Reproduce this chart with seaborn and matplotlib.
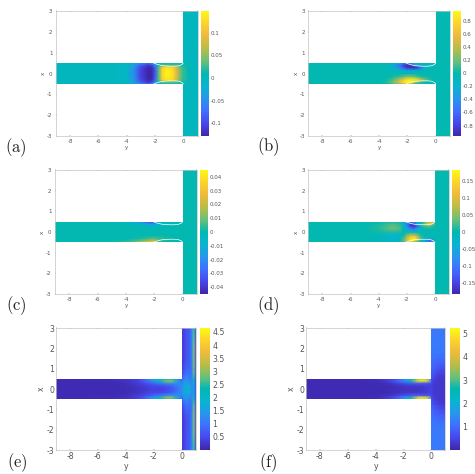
import numpy as np
import matplotlib
matplotlib.use("Agg")
import matplotlib.pyplot as plt
from matplotlib.colors import LinearSegmentedColormap
from matplotlib.patches import Rectangle
from matplotlib.transforms import Affine2D
import seaborn as sns

# Sampling stations of the horizontal channel
channel_y = [-9, -5, -4, -3.5, -3, -2.5, -2.25, -2, -1.75, -1.5, -1.25, -1, -.75, -.5, -.25, 0]
channel_x_upper = [0, .15, .3, .42, .5]

# Channel fields, upper half, rows follow channel_x_upper
channel_a = [
    [0, 0, -.008, -.05, -.105, -.13, -.13, -.09, .03, .12, .14, .14, .13, .09, .045, .02],
    [0, 0, -.008, -.05, -.105, -.13, -.13, -.09, .03, .12, .14, .14, .13, .09, .045, .02],
    [0, 0, -.006, -.045, -.1, -.125, -.125, -.08, .03, .11, .13, .13, .12, .08, .04, .02],
    [0, 0, -.004, -.035, -.08, -.11, -.1, -.05, .01, .03, .03, .03, .03, .03, .02, .01],
    [0, 0, 0, -.02, -.05, -.07, -.04, 0, 0, 0, 0, 0, 0, 0, 0, 0],
]
channel_b = [
    [0, 0, 0, 0, 0, -.01, -.02, -.03, -.03, -.02, -.01, 0, 0, 0, 0, 0],
    [0, 0, 0, 0, -.04, -.12, -.2, -.28, -.28, -.2, -.1, -.04, -.02, -.01, 0, 0],
    [0, 0, 0, -.02, -.15, -.5, -.7, -.88, -.93, -.93, -.8, -.55, -.25, -.1, -.03, 0],
    [0, 0, 0, -.05, -.25, -.6, -.85, -.93, -.85, -.4, -.15, -.06, -.02, 0, 0, 0],
    [0, 0, 0, 0, -.08, -.25, -.35, -.4, -.2, -.05, 0, 0, 0, 0, 0, 0],
]
channel_c = [
    [0, 0, 0, 0, 0, 0, 0, 0, 0, 0, 0, 0, 0, 0, 0, 0],
    [0, 0, 0, 0, 0, 0, 0, 0, 0, 0, 0, 0, 0, 0, 0, 0],
    [0, 0, 0, -.001, -.002, -.004, -.006, -.006, -.005, -.004, -.003, -.002, -.001, 0, 0, 0],
    [0, 0, -.002, -.005, -.008, -.016, -.02, -.02, -.01, -.005, -.003, 0, 0, 0, 0, 0],
    [0, -.001, -.006, -.012, -.022, -.035, -.04, -.03, 0, 0, 0, 0, 0, 0, 0, 0],
]
channel_d = [
    [0, 0, .005, .01, .01, .01, 0, -.01, -.02, -.02, -.01, 0, 0, 0, 0, 0],
    [0, 0, .01, .025, .035, .025, 0, -.04, -.08, -.09, -.05, -.01, 0, 0, 0, 0],
    [0, 0, .01, .02, .035, .02, -.02, -.08, -.15, -.17, -.12, -.03, .02, .04, .02, 0],
    [0, 0, .005, .015, .02, .01, -.03, -.09, -.16, -.15, -.06, 0, .04, .12, .13, .03],
    [0, 0, 0, .005, .01, 0, -.01, -.03, -.05, -.04, -.01, 0, .02, .05, .05, .02],
]
channel_e = [
    [.08, .08, .1, .14, .2, .3, .35, .38, .38, .38, .42, .5, .6, .75, 1.0, 1.3],
    [.08, .08, .1, .16, .24, .35, .4, .45, .45, .48, .52, .6, .7, .9, 1.1, 1.3],
    [.08, .08, .14, .24, .35, .55, .65, .8, .95, 1.05, 1.2, 1.4, 1.4, 1.4, 1.3, 1.2],
    [.08, .12, .2, .3, .5, 1.0, 1.3, 1.7, 2.0, 2.4, 2.8, 3.2, 3.2, 2.6, 1.6, 1.0],
    [.08, .12, .2, .25, .45, .8, 1, 1.3, 1.6, 1.9, 2.1, 2.3, 2.1, 1.5, 1, .6],
]
channel_f = [
    [.1, .1, .1, .1, .12, .16, .18, .2, .2, .2, .2, .22, .25, .3, .35, .45],
    [.1, .1, .1, .1, .12, .18, .2, .22, .25, .25, .25, .28, .3, .35, .4, .45],
    [.1, .1, .1, .15, .22, .4, .5, .6, .7, .8, .8, .8, .8, .7, .7, .6],
    [.1, .1, .16, .28, .5, .9, 1.2, 1.6, 2.0, 2.6, 3.4, 4.8, 5.2, 5.2, 4.6, 1.5],
    [.1, .1, .16, .24, .4, .6, .8, 1.0, 1.4, 1.8, 2.4, 3.2, 3.6, 3.6, 3, .8],
]

# Vertical branch fields on y = 0, .125, ... 1 and |x| = 0, .25, ... 3
branch_quiet = [[0] * 9] * 13
branch_a = [
    [.02, .02, .015, .01, .005, 0, 0, 0, 0],
    [.02, .02, .015, .01, .005, 0, 0, 0, 0],
    [.01, .01, .005, 0, 0, 0, 0, 0, 0],
] + [[0] * 9] * 10
branch_e = [
    [1.3, 1.6, 1.7, 1.8, 1.9, 1.6, 1.3, 1.6, .5],
    [1.2, 1.5, 1.6, 1.7, 1.7, 1.4, 1.2, 1.8, .5],
    [.6, 1.2, 1.3, 1.3, 1.2, 1.1, 1.3, 2.4, .5],
    [.4, .7, .9, 1.0, 1.0, .9, 1.3, 2.8, .5],
    [.3, .5, .7, .8, .8, .8, 1.3, 2.9, .5],
    [.3, .4, .6, .7, .7, .8, 1.3, 3.0, .5],
    [.3, .35, .5, .6, .7, .8, 1.4, 3.0, .5],
    [.3, .35, .5, .6, .7, .8, 1.4, 3.0, .5],
    [.3, .35, .5, .6, .7, .8, 1.4, 3.0, .5],
    [.3, .35, .5, .6, .7, .8, 1.4, 2.9, .5],
    [.3, .35, .5, .6, .7, .8, 1.4, 2.8, .5],
    [.3, .35, .5, .6, .7, .8, 1.4, 2.7, .5],
    [.3, .35, .5, .6, .7, .8, 1.4, 2.6, .5],
]
branch_f = [
    [.45, .35, .3, .3, .3, .3, .3, .3, .3],
    [.45, .35, .3, .3, .3, .3, .3, .3, .3],
    [.7, .5, .4, .35, .3, .3, .3, .3, .3],
    [.8, .7, .6, .5, .45, .4, .4, .4, .4],
    [.95, .9, .8, .75, .7, .65, .6, .6, .6],
    [1.05, 1.0, .95, .9, .9, .85, .85, .85, .85],
    [1.1, 1.1, 1.05, 1.05, 1.0, 1.0, 1.0, 1.0, 1.0],
    [1.2, 1.2, 1.15, 1.15, 1.15, 1.15, 1.15, 1.15, 1.15],
    [1.2, 1.2, 1.2, 1.2, 1.2, 1.2, 1.2, 1.2, 1.2],
    [1.2, 1.2, 1.2, 1.2, 1.2, 1.2, 1.2, 1.2, 1.2],
    [1.2, 1.2, 1.2, 1.2, 1.2, 1.2, 1.2, 1.2, 1.2],
    [1.2, 1.2, 1.2, 1.2, 1.2, 1.2, 1.2, 1.2, 1.2],
    [1.2, 1.2, 1.2, 1.2, 1.2, 1.2, 1.2, 1.2, 1.2],
]

# Interface curve along the upper wall
interface_y = [-2.1, -1.8, -1.5, -1.2, -.9, -.6, -.3, -.1, 0]
interface_x = [.5, .43, .38, .36, .35, .35, .37, .43, .5]

# Colour ranges and colour bar ticks
limits = {"a": (-.128, .148), "b": (-.96, .954), "c": (-.045, .045),
          "d": (-.181, .181), "e": (0, 4.64), "f": (0, 5.23)}
bar_ticks = {
    "a": [-.1, -.05, 0, .05, .1],
    "b": [-.8, -.6, -.4, -.2, 0, .2, .4, .6, .8],
    "c": [-.04, -.03, -.02, -.01, 0, .01, .02, .03, .04],
    "d": [-.15, -.1, -.05, 0, .05, .1, .15],
    "e": [.5, 1, 1.5, 2, 2.5, 3, 3.5, 4, 4.5],
    "f": [1, 2, 3, 4, 5],
}

# Axes and colour bar boxes in pixels: left, right, top, bottom, bar left, bar right, label x, label y
boxes = {
    "a": (56, 197.5, 11, 136, 200.7, 208.7, 16, 148),
    "b": (308.3, 450, 11, 136, 453, 460.7, 268, 147),
    "c": (55, 197, 170, 294, 200, 208, 16, 306),
    "d": (308.3, 449, 170, 294, 452, 460, 268, 306),
    "e": (56, 195.7, 328.3, 450, 200, 210, 17, 463),
    "f": (306, 445.3, 328.3, 450, 449.7, 460, 268, 463),
}

W, H = 475, 474
GREY = "#555555"

parula = LinearSegmentedColormap.from_list("parula", [
    (.2422, .1504, .6603), (.2803, .2782, .9221), (.2440, .4358, .9988),
    (.1540, .5902, .9218), (.0297, .7082, .8163), (.0, .72, .70),
    (.42, .75, .47), (.72, .74, .28), (.93, .73, .24), (.99, .82, .18),
    (.9769, .9839, .0805)])

sns.set_theme(style="white")
plt.rcParams["axes.unicode_minus"] = False
plt.rcParams["mathtext.fontset"] = "cm"

fig = plt.figure(figsize=(W / 100, H / 100), dpi=100)


def mirror(upper, sign):
    upper = np.asarray(upper, dtype=float)
    return np.vstack([sign * upper[:0:-1], upper])


def panel(tag, channel, branch, sign, curve):
    left, right, top, bottom, bar_l, bar_r, lab_x, lab_y = boxes[tag]
    big = tag in "ef"
    size = 5.6 if big else 4.0
    ax = fig.add_axes([left / W, 1 - bottom / H, (right - left) / W, (bottom - top) / H])
    cax = fig.add_axes([bar_l / W, 1 - bottom / H, (bar_r - bar_l) / W, (bottom - top) / H])
    vmin, vmax = limits[tag]

    sns.heatmap(mirror(branch, sign), ax=ax, cbar_ax=cax, cmap=parula, vmin=vmin, vmax=vmax,
                shading="gouraud", xticklabels=False, yticklabels=False)
    branch_mesh = ax.collections[0]
    branch_mesh.set_transform(Affine2D().scale(.125, .25).translate(0, -3) + ax.transData)

    cx = np.concatenate([-np.array(channel_x_upper)[:0:-1], channel_x_upper])
    channel_mesh = ax.pcolormesh(channel_y, cx, mirror(channel, sign), shading="gouraud",
                                 cmap=parula, vmin=vmin, vmax=vmax)
    # Straight walls: keep the shaded triangles inside the duct outline
    channel_mesh.set_clip_path(Rectangle((-9, -.5), 9, 1, transform=ax.transData))
    branch_mesh.set_clip_path(Rectangle((0, -3), 1, 6, transform=ax.transData))

    if curve:
        ax.plot(interface_y, interface_x, color="white", lw=.5)
        ax.plot(interface_y, -np.array(interface_x), color="white", lw=.5)

    ax.set_xlim(-9, 1)
    ax.set_ylim(-3, 3)
    ax.set_xticks([-8, -6, -4, -2, 0], labels=["-8", "-6", "-4", "-2", "0"])
    ax.set_yticks(range(-3, 4), labels=[str(v) for v in range(-3, 4)], rotation=0)
    ax.tick_params(length=1, width=.3, direction="in", top=True, right=True, left=True, bottom=True,
                   labelsize=size, colors=GREY, pad=1.5 if big else 2.5)
    ax.set_xlabel("y", fontsize=size, color=GREY, labelpad=.5)
    ax.set_ylabel("x", fontsize=size, color=GREY, labelpad=.5)
    for s in ax.spines.values():
        s.set_visible(True)
        s.set_linewidth(.5)
        s.set_color("#c4c4c4")

    cax.set_yticks(bar_ticks[tag], labels=[f"{v:g}" for v in bar_ticks[tag]])
    cax.tick_params(length=0, labelsize=size, colors=GREY, pad=1.5, right=True, labelright=True)

    fig.text(lab_x / W, 1 - lab_y / H, rf"$\mathrm{{({tag})}}$", fontsize=12,
             color="#222222", ha="center", va="center")


panel("a", channel_a, branch_a, 1, True)
panel("b", channel_b, branch_quiet, -1, True)
panel("c", channel_c, branch_quiet, -1, True)
panel("d", channel_d, branch_quiet, -1, True)
panel("e", channel_e, branch_e, 1, False)
panel("f", channel_f, branch_f, 1, False)

fig.savefig("out.png", dpi=100)
